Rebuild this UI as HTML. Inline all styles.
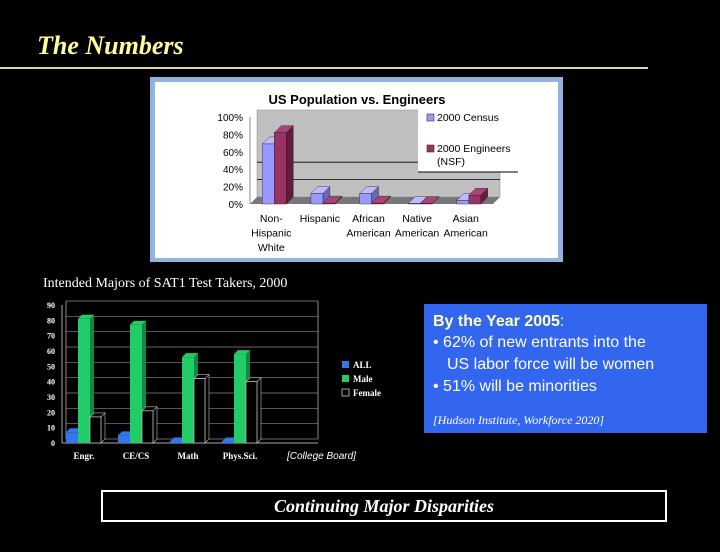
<!DOCTYPE html>
<html><head><meta charset="utf-8"><style>
html,body{margin:0;padding:0;background:#000;}
svg{display:block}
</style></head><body>
<svg width="720" height="552" viewBox="0 0 720 552" xmlns="http://www.w3.org/2000/svg">
<rect width="720" height="552" fill="#000"/>
<text x="37" y="54" font-family="Liberation Serif, serif" font-style="italic" font-weight="bold" font-size="26" fill="#ffff99">The Numbers</text>
<rect x="0" y="67" width="648" height="2" fill="#d8d890"/>

<!-- Top chart -->
<g font-family="Liberation Sans, sans-serif">
<rect x="150" y="77" width="413" height="185" fill="#8fb4e0"/>
<rect x="155" y="82" width="403" height="176" fill="#fff"/>
<text x="357" y="104" text-anchor="middle" font-weight="bold" font-size="13" fill="#000">US Population vs. Engineers</text>
<g id="topPlot"></g>
<g>
<rect x="418" y="108" width="100" height="64" fill="#fff"/>
<line x1="418" y1="172" x2="518" y2="172" stroke="#000"/>
<rect x="427" y="114" width="7" height="7" fill="#9999ff" stroke="#333" stroke-width="0.6"/>
<text x="437" y="121" font-size="10.5" fill="#000">2000 Census</text>
<rect x="427" y="145" width="7" height="7" fill="#993366" stroke="#333" stroke-width="0.6"/>
<text x="437" y="152" font-size="10.5" fill="#000">2000 Engineers</text>
<text x="437" y="165" font-size="10.5" fill="#000">(NSF)</text>
</g>
</g>

<text x="43" y="287" font-family="Liberation Serif, serif" font-size="14" fill="#fff">Intended Majors of SAT1 Test Takers, 2000</text>
<g id="botPlot" font-family="Liberation Serif, serif"></g>
<g font-family="Liberation Serif, serif" font-weight="bold" font-size="9" fill="#fff">
<rect x="342" y="361" width="7" height="7" fill="#3377ee"/><text x="353" y="368">ALL</text>
<rect x="342" y="375" width="7" height="7" fill="#22cc66"/><text x="353" y="382">Male</text>
<rect x="342" y="389" width="7" height="7" fill="#000" stroke="#ccc" stroke-width="0.8"/><text x="353" y="396">Female</text>
</g>
<text x="287" y="459" font-family="Liberation Sans, sans-serif" font-style="italic" font-size="10" fill="#fff">[College Board]</text>

<g font-family="Liberation Sans, sans-serif">
<rect x="424" y="304" width="283" height="129" fill="#3366ee"/>
<text x="433" y="326" font-size="16" fill="#fff"><tspan font-weight="bold" fill="#ffffbb">By the Year 2005</tspan>:</text>
<text x="433" y="347" font-size="16" fill="#fff">• 62% of new entrants into the</text>
<text x="447" y="369" font-size="16" fill="#fff">US labor force will be women</text>
<text x="433" y="391" font-size="16" fill="#fff">• 51% will be minorities</text>
<text x="433" y="424" font-family="Liberation Serif, serif" font-style="italic" font-size="12" fill="#fff">[Hudson Institute, Workforce 2020]</text>
</g>

<g>
<rect x="102" y="491" width="564" height="30" fill="#000" stroke="#fff" stroke-width="2"/>
<text x="384" y="512" text-anchor="middle" font-family="Liberation Serif, serif" font-style="italic" font-weight="bold" font-size="18" fill="#fff">Continuing Major Disparities</text>
</g>
</svg>
<script>
var popCategories=[["Non-","Hispanic","White"],["Hispanic"],["African","American"],["Native","American"],["Asian","American"]];
var popCensus=[69,12,12,0.5,4];
var popEngineers=[82,1,1,0.5,10];
var popTicks=[0,20,40,60,80,100];

var satCategories=["Engr.","CE/CS","Math","Phys.Sci."];
var satAll=[7,5,1,1];
var satMale=[81,77,56,58];
var satFemale=[17,21,42,40];
var satTicks=[0,10,20,30,40,50,60,70,80,90];

var NS="http://www.w3.org/2000/svg";
function mk(p,t,a){var e=document.createElementNS(NS,t);for(var k in a)e.setAttribute(k,a[k]);p.appendChild(e);return e;}

// Top chart
(function(){
var g=document.getElementById('topPlot');
var y0=204,y100=117,x0=250,x1=493,d=7;
function ys(v){return y0-(v/100)*(y0-y100);}
var catW=(x1-x0)/popCategories.length;
function xc(i){return x0+catW*(i+0.5);}
var wall=mk(g,'polygon',{points:(x0+d)+','+(ys(100)-d)+' '+(x1+d)+','+(ys(100)-d)+' '+(x1+d)+','+(y0-d)+' '+(x0+d)+','+(y0-d),fill:'#c0c0c0',stroke:'#888','stroke-width':0.5});


var floor=mk(g,'polygon',{points:x0+','+y0+' '+x1+','+y0+' '+(x1+d)+','+(y0-d)+' '+(x0+d)+','+(y0-d),fill:'#777'});


mk(g,'line',{x1:x0,y1:ys(100),x2:x0,y2:y0,stroke:'#888'});
[20,40].forEach(function(v){mk(g,'line',{x1:x0+d,y1:ys(v)-d,x2:x1+d,y2:ys(v)-d,stroke:'#000','stroke-width':0.8});});
popTicks.forEach(function(t){
 var tx=mk(g,'text',{x:243,y:ys(t)+4,'text-anchor':'end','font-size':10,fill:'#000'});
 tx.textContent=t+'%';
 
 
});
function bar3(x,w,v,front,side,top,name){
 var y=ys(v),h=y0-y;
 mk(g,'polygon',{points:(x+w)+','+y+' '+(x+w+d)+','+(y-d)+' '+(x+w+d)+','+(y0-d)+' '+(x+w)+','+y0,fill:side,stroke:'#222','stroke-width':0.4});
 mk(g,'polygon',{points:x+','+y+' '+(x+d)+','+(y-d)+' '+(x+w+d)+','+(y-d)+' '+(x+w)+','+y,fill:top,stroke:'#222','stroke-width':0.4});
 var r=mk(g,'rect',{x:x,y:y,width:w,height:h,fill:front,stroke:'#222','stroke-width':0.4});
 
 
}
popCategories.forEach(function(c,i){
 var cx=xc(i);
 bar3(cx-12,12,popCensus[i],'#9999ff','#6666bb','#bbbbff','bar-census');
 bar3(cx,12,popEngineers[i],'#993366','#66193f','#aa4477','bar-engineers');
 c.forEach(function(line,j){
  var tx=mk(g,'text',{x:cx-3,y:222+j*14.5,'text-anchor':'middle','font-size':10.5,fill:'#000'});
  tx.textContent=line;
  
  
 });
});
})();

// Bottom chart
(function(){
var g=document.getElementById('botPlot');
var y0=443,y90=305,x0=62,x1=318,d=4;
function ys(v){return y0-(v/90)*(y0-y90);}
satTicks.forEach(function(t){
 mk(g,'line',{x1:x0+d,y1:ys(t)-d,x2:x1,y2:ys(t)-d,stroke:'#888','stroke-width':0.7});
 var tx=mk(g,'text',{x:55,y:ys(t)+3,'text-anchor':'end','font-size':8,'font-weight':'bold',fill:'#fff'});
 tx.textContent=t;
 
 
});
mk(g,'line',{x1:x0+d,y1:ys(90)-d,x2:x0+d,y2:y0-d,stroke:'#888'});
mk(g,'line',{x1:x1,y1:ys(90)-d,x2:x1,y2:y0-d,stroke:'#888'});
mk(g,'line',{x1:x0,y1:y0,x2:x1,y2:y0,stroke:'#aaa'});
mk(g,'line',{x1:x0,y1:y0,x2:x0,y2:ys(90),stroke:'#aaa'});
var catW=52;
function bar3(x,w,v,front,side,name){
 var y=ys(v);
 var blk=front==='#000';
 mk(g,'polygon',{points:(x+w)+','+y+' '+(x+w+d)+','+(y-d)+' '+(x+w+d)+','+(y0-d)+' '+(x+w)+','+y0,fill:side,stroke:blk?'#bbb':'none','stroke-width':0.6});
 mk(g,'polygon',{points:x+','+y+' '+(x+d)+','+(y-d)+' '+(x+w+d)+','+(y-d)+' '+(x+w)+','+y,fill:blk?'#000':front,stroke:blk?'#bbb':'none','stroke-width':0.6});
 var r=mk(g,'rect',{x:x,y:y,width:w,height:y0-y,fill:front,stroke:blk?'#bbb':'none','stroke-width':0.8});
 
 
}
satCategories.forEach(function(c,i){
 var cx=x0+16+catW*i;
 bar3(cx-12,12,satAll[i],'#3377ee','#2255aa','bar-all');
 bar3(cx,12,satMale[i],'#22cc66','#118844','bar-male');
 bar3(cx+12,11,satFemale[i],'#000','#000','bar-female');
 var tx=mk(g,'text',{x:cx+6,y:459,'text-anchor':'middle','font-size':9,'font-weight':'bold',fill:'#fff'});
 tx.textContent=c;
 
 
});
})();
</script>
</body></html>
